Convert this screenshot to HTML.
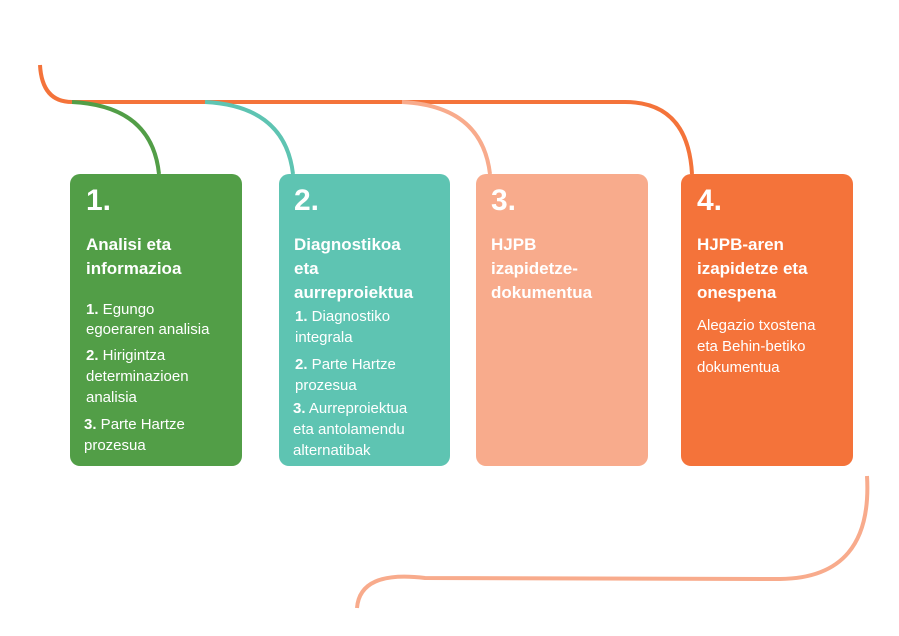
<!DOCTYPE html><html><head><style>
body{margin:0;width:899px;height:636px;background:#fff;position:relative;overflow:hidden;font-family:"Liberation Sans",sans-serif;color:#fff}
.b{position:absolute;top:174px;height:292px;border-radius:10px}
.t{position:absolute;white-space:nowrap;line-height:20px;height:20px}
.n{font-size:30px;font-weight:bold;line-height:30px;height:30px}
.h{font-size:17px;font-weight:bold}
.i{font-size:15px}
</style></head><body>
<svg width="899" height="636" style="position:absolute;left:0;top:0" fill="none" stroke-width="4">
<path d="M40 65 Q42 102 72 102" stroke="#f4733a"/>
<path d="M72 102 L625 102 Q688 102 692 174" stroke="#f4733a"/>
<path d="M72 102 Q152 106 159 174" stroke="#529e47"/>
<path d="M205 102 Q285 106 293 174" stroke="#5ec4b2"/>
<path d="M402 102 Q482 106 490 174" stroke="#f8ab8c"/>
<path d="M867 476 Q873 578 780 579 L425 578 Q360 570 357 608" stroke="#f8ab8c"/>
</svg>
<div class="b" style="left:70px;width:172px;background:#529e47"></div>
<div class="b" style="left:279px;width:171px;background:#5ec4b2"></div>
<div class="b" style="left:476px;width:172px;background:#f8ab8c"></div>
<div class="b" style="left:681px;width:172px;background:#f4733a"></div>

<div class="t n" style="left:86px;top:186px">1.</div>
<div class="t h" style="left:86px;top:235px">Analisi eta</div>
<div class="t h" style="left:86px;top:259px">informazioa</div>
<div class="t i" style="left:86px;top:300px"><b>1.</b> Egungo</div>
<div class="t i" style="left:86px;top:320px">egoeraren analisia</div>
<div class="t i" style="left:86px;top:346px"><b>2.</b> Hirigintza</div>
<div class="t i" style="left:86px;top:367px">determinazioen</div>
<div class="t i" style="left:86px;top:388px">analisia</div>
<div class="t i" style="left:84px;top:415px"><b>3.</b> Parte Hartze</div>
<div class="t i" style="left:84px;top:436px">prozesua</div>

<div class="t n" style="left:294px;top:186px">2.</div>
<div class="t h" style="left:294px;top:235px">Diagnostikoa</div>
<div class="t h" style="left:294px;top:259px">eta</div>
<div class="t h" style="left:294px;top:283px">aurreproiektua</div>
<div class="t i" style="left:295px;top:307px"><b>1.</b> Diagnostiko</div>
<div class="t i" style="left:295px;top:328px">integrala</div>
<div class="t i" style="left:295px;top:355px"><b>2.</b> Parte Hartze</div>
<div class="t i" style="left:295px;top:376px">prozesua</div>
<div class="t i" style="left:293px;top:399px"><b>3.</b> Aurreproiektua</div>
<div class="t i" style="left:293px;top:420px">eta antolamendu</div>
<div class="t i" style="left:293px;top:441px">alternatibak</div>

<div class="t n" style="left:491px;top:186px">3.</div>
<div class="t h" style="left:491px;top:235px">HJPB</div>
<div class="t h" style="left:491px;top:259px">izapidetze-</div>
<div class="t h" style="left:491px;top:283px">dokumentua</div>

<div class="t n" style="left:697px;top:186px">4.</div>
<div class="t h" style="left:697px;top:235px">HJPB-aren</div>
<div class="t h" style="left:697px;top:259px">izapidetze eta</div>
<div class="t h" style="left:697px;top:283px">onespena</div>
<div class="t i" style="left:697px;top:316px">Alegazio txostena</div>
<div class="t i" style="left:697px;top:337px">eta Behin-betiko</div>
<div class="t i" style="left:697px;top:358px">dokumentua</div>
</body></html>
